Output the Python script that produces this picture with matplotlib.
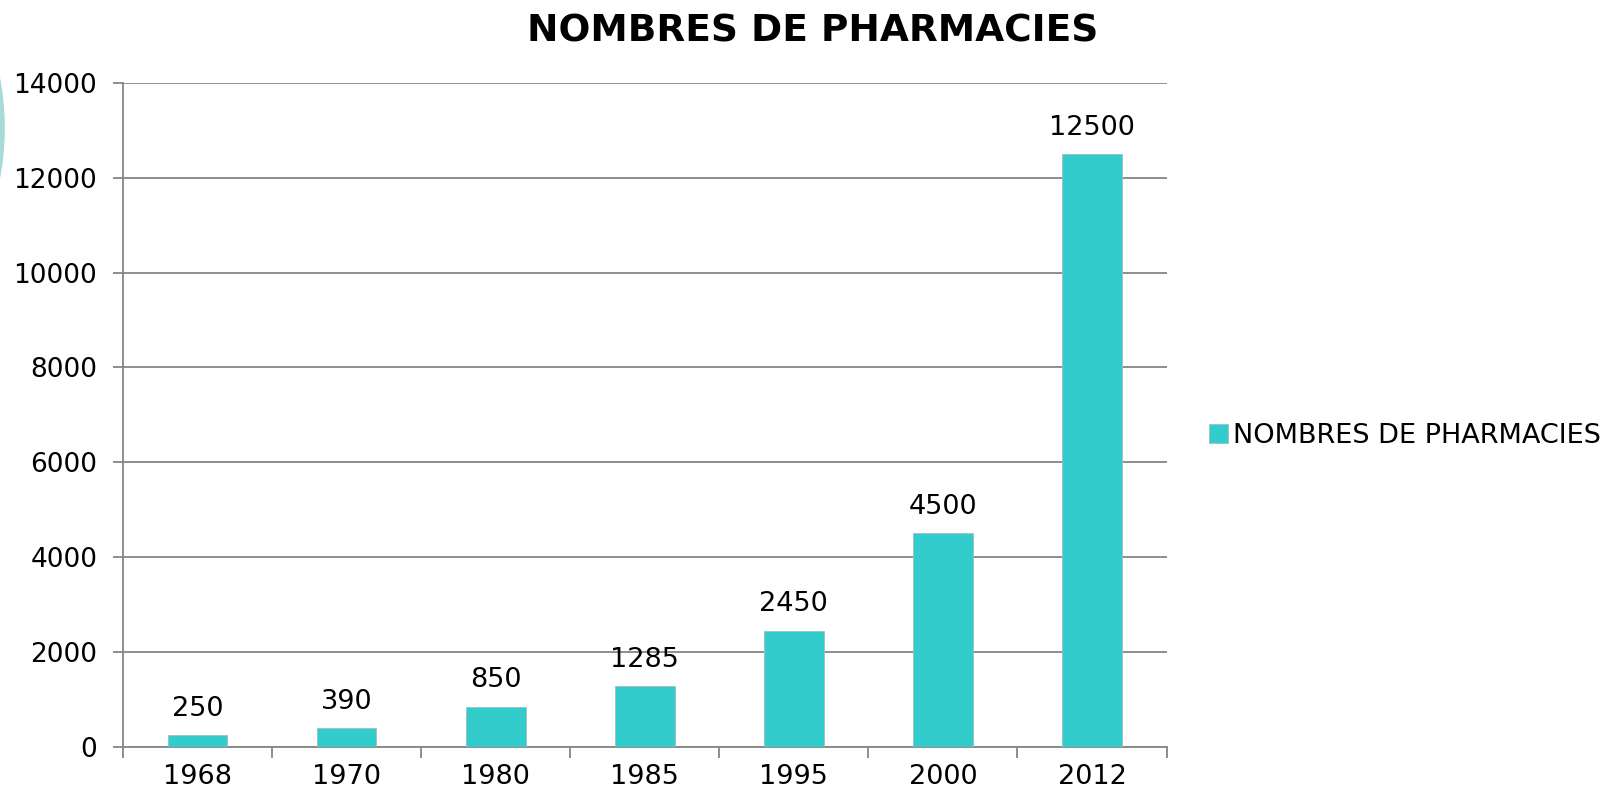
import matplotlib
matplotlib.use('Agg')
import matplotlib.pyplot as plt
from matplotlib.patches import Ellipse

years = ['1968', '1970', '1980', '1985', '1995', '2000', '2012']
pharmacies = [250, 390, 850, 1285, 2450, 4500, 12500]
series_name = 'NOMBRES DE PHARMACIES'

bar_color = '#33CCCC'
grid_color = '#868686'

plt.rcParams['font.family'] = ['DejaVu Sans']

fig = plt.figure(figsize=(16.18, 7.96), dpi=100)
ax = fig.add_axes([0.076, 0.0616, 0.645, 0.8344])

x = range(len(years))
bars = ax.bar(x, pharmacies, width=0.4, color=bar_color, edgecolor='#9fbfbf',
              linewidth=0.6, label=series_name, zorder=3)

for xi, v in zip(x, pharmacies):
    ax.text(xi, v + 280, str(v), ha='center', va='bottom', fontsize=19.5, color='black')

ax.set_xlim(-0.5, len(years) - 0.5)
ax.set_ylim(0, 14000)
ax.set_yticks(range(0, 14001, 2000))
ax.yaxis.grid(True, color=grid_color, linewidth=1.3, zorder=0)
ax.tick_params(axis='y', length=7, color=grid_color, width=1.3, labelsize=19, pad=11.5)

ax.set_xticks(list(x))
ax.set_xticklabels(years, fontsize=19.5)
ax.set_xticks([i + 0.5 for i in range(-1, len(years))], minor=True)
ax.tick_params(axis='x', which='major', length=0, pad=12)
ax.tick_params(axis='x', which='minor', length=8, color=grid_color, width=1.3)

for side in ['top', 'right']:
    ax.spines[side].set_visible(False)
for side in ['left', 'bottom']:
    ax.spines[side].set_color(grid_color)
    ax.spines[side].set_linewidth(1.3)

fig.text(0.502, 0.960, series_name, ha='center', va='center', fontsize=27,
         fontweight='bold')

leg = fig.legend(handles=[bars], labels=[series_name], loc='center left',
                 bbox_to_anchor=(0.747, 0.452), frameon=False, fontsize=19.5,
                 handlelength=0.7, handleheight=0.7, handletextpad=0.2,
                 borderaxespad=0, borderpad=0)

# decorative disc peeking in at the left edge
disc = Ellipse((-0.1625, 0.839), 0.331, 0.673, transform=fig.transFigure,
               facecolor='#a9d9d9', edgecolor='none')
fig.patches.append(disc)

fig.savefig('out.png', dpi=100)
